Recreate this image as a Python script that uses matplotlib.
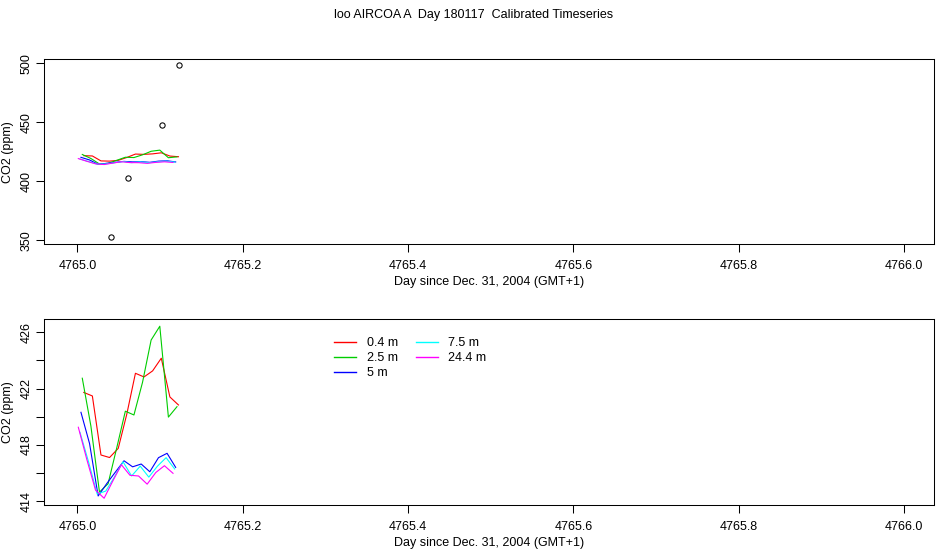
import matplotlib

matplotlib.use("Agg")
import matplotlib.pyplot as plt

plt.rcParams["font.family"] = ["Liberation Sans", "DejaVu Sans"]

TITLE = "loo AIRCOA A  Day 180117  Calibrated Timeseries"
X_LABEL = "Day since Dec. 31, 2004 (GMT+1)"
Y_LABEL = "CO2 (ppm)"

# day since Dec. 31, 2004 (offset from 4765), one list per inlet height
t_04 = [0.0076, 0.0180, 0.0284, 0.0388, 0.0493, 0.0597, 0.0701, 0.0805, 0.0909, 0.1014, 0.1118, 0.1222]
t_25 = [0.0058, 0.0162, 0.0266, 0.0370, 0.0475, 0.0579, 0.0683, 0.0787, 0.0891, 0.0996, 0.1100, 0.1204]
t_5 = [0.0042, 0.0146, 0.0250, 0.0354, 0.0459, 0.0563, 0.0667, 0.0771, 0.0875, 0.0980, 0.1084, 0.1188]
t_75 = [0.0030, 0.0134, 0.0238, 0.0342, 0.0447, 0.0551, 0.0655, 0.0759, 0.0863, 0.0968, 0.1072, 0.1176]
t_244 = [0.0010, 0.0114, 0.0218, 0.0322, 0.0427, 0.0531, 0.0635, 0.0739, 0.0843, 0.0948, 0.1052, 0.1156]

co2_04 = [421.73, 421.48, 417.29, 417.11, 417.76, 420.20, 423.09, 422.83, 423.26, 424.16, 421.41, 420.84]
co2_25 = [422.74, 419.35, 414.66, 415.25, 417.80, 420.40, 420.13, 422.45, 425.45, 426.43, 419.98, 420.72]
co2_5 = [420.32, 418.10, 414.38, 415.26, 416.08, 416.88, 416.45, 416.65, 416.10, 417.10, 417.41, 416.41]
co2_75 = [418.90, 416.80, 414.52, 414.73, 415.73, 416.81, 415.80, 416.50, 415.72, 416.50, 417.10, 416.30]
co2_244 = [419.26, 416.95, 414.80, 414.22, 415.44, 416.60, 415.85, 415.80, 415.22, 416.05, 416.53, 415.99]

# reference gas points shown as open circles in the upper panel
ref_t = [0.0409, 0.0615, 0.1026, 0.1232]
ref_co2 = [352.5, 402.5, 447.5, 498.3]

DAY0 = 4765.0
series = [
    ("0.4 m", t_04, co2_04, "#FF0000"),
    ("2.5 m", t_25, co2_25, "#00CD00"),
    ("5 m", t_5, co2_5, "#0000FF"),
    ("7.5 m", t_75, co2_75, "#00FFFF"),
    ("24.4 m", t_244, co2_244, "#FF00FF"),
]

x_ticks = [4765.0, 4765.2, 4765.4, 4765.6, 4765.8, 4766.0]
top_yticks = [350, 400, 450, 500]
bottom_yticks = [414, 416, 418, 420, 422, 424, 426]
bottom_ylabels = ["414", "", "418", "", "422", "", "426"]

FS = 9

fig = plt.figure(figsize=(9.5, 5.5), dpi=100)
fig.patch.set_facecolor("white")
ax_top = fig.add_axes([0.0466, 0.5564, 0.9368, 0.3358])
ax_bot = fig.add_axes([0.0466, 0.0818, 0.9368, 0.3376])

for ax in (ax_top, ax_bot):
    for label, t, co2, color in series:
        ax.plot([DAY0 + v for v in t], co2, color=color, linewidth=0.8, label=label)
    ax.set_xlim(4764.9598, 4766.0367)
    ax.set_xticks(x_ticks, [f"{v:.1f}" for v in x_ticks])
    ax.tick_params(axis="both", direction="out", length=5.5, width=0.75, labelsize=FS)
    ax.tick_params(axis="x", pad=6)
    ax.tick_params(axis="y", pad=3)
    for spine in ax.spines.values():
        spine.set_linewidth(0.75)
        spine.set_color("black")
    ax.set_xlabel(X_LABEL, fontsize=FS, labelpad=3)
    ax.set_ylabel(Y_LABEL, fontsize=FS, labelpad=5)

ax_top.plot([DAY0 + v for v in ref_t], ref_co2, linestyle="none", marker="o",
            markersize=3.8, markerfacecolor="none", markeredgecolor="black", markeredgewidth=0.75)
ax_top.set_ylim(346.9, 503.4)
ax_top.set_yticks(top_yticks, [str(v) for v in top_yticks])
ax_bot.set_ylim(413.74, 426.92)
ax_bot.set_yticks(bottom_yticks, bottom_ylabels)

for ax in (ax_top, ax_bot):
    for lab in ax.get_yticklabels():
        lab.set_rotation(90)
        lab.set_va("center")

leg = ax_bot.legend(loc="upper left", bbox_to_anchor=(0.32, 0.932), ncol=2, frameon=False,
                    fontsize=FS, handlelength=1.75, handletextpad=0.85, columnspacing=1.45,
                    labelspacing=0.25, borderaxespad=0)
for handle in leg.get_lines():
    handle.set_linewidth(1.0)

fig.text(0.498, 1 - 15 / 550, TITLE, ha="center", va="center", fontsize=FS)

fig.savefig("out.png", dpi=100, facecolor="white")
plt.close(fig)
